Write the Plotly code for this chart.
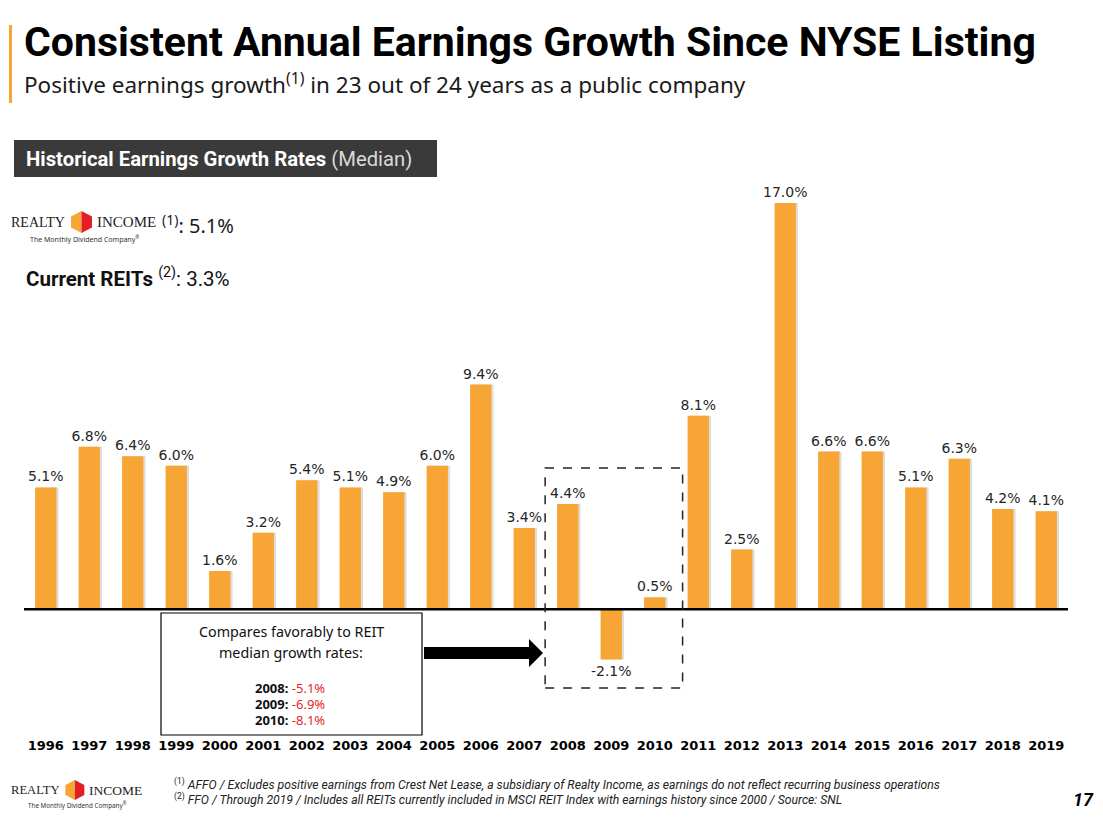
import plotly.graph_objects as go

# Realty Income median annual earnings growth (%)
years = ["1996", "1997", "1998", "1999", "2000", "2001", "2002", "2003",
         "2004", "2005", "2006", "2007", "2008", "2009", "2010", "2011",
         "2012", "2013", "2014", "2015", "2016", "2017", "2018", "2019"]
growth = [5.1, 6.8, 6.4, 6.0, 1.6, 3.2, 5.4, 5.1,
          4.9, 6.0, 9.4, 3.4, 4.4, -2.1, 0.5, 8.1,
          2.5, 17.0, 6.6, 6.6, 5.1, 6.3, 4.2, 4.1]

# REIT medians quoted in the call-out box
reit_years = ["2008", "2009", "2010"]
reit_growth = [-5.1, -6.9, -8.1]

ORANGE = "#F7A535"
RED = "#E31E26"

# page body has an 8px margin, so the figure starts at (8, 8) on screen
OFF = 8
W, H = 1095, 805
# plot area in screen pixels
PL, PR, PT, PB = 24, 1068, 179, 736
L, T = PL - OFF, PT - OFF
R, B = (OFF + W) - PR, (OFF + H) - PB


def px(x):
    # screen pixel x -> paper x
    return (x - PL) / (PR - PL)


def py(y):
    # screen pixel y (from top) -> paper y
    return (PB - y) / (PB - PT)


fig = go.Figure()

# soft drop shadow behind the bars
fig.add_trace(go.Bar(
    x=years, y=growth, width=0.49, offset=-0.245 + 0.05,
    marker=dict(color="rgba(120,120,120,0.25)", line=dict(width=0)),
    hoverinfo="skip", showlegend=False,
))

fig.add_trace(go.Bar(
    x=years, y=growth, width=0.49, offset=-0.245,
    marker=dict(color=ORANGE, line=dict(width=0)),
    text=[f"{v:.1f}%" for v in growth],
    textposition="outside", constraintext="none", cliponaxis=False,
    textfont=dict(family="DejaVu Sans", size=14, color="#262626"),
    showlegend=False,
))

shapes = []
annotations = []

# baseline
shapes.append(dict(type="line", xref="x", yref="y", x0=-0.5, x1=23.5, y0=0, y1=0,
                   line=dict(color="black", width=2.5), layer="above"))

# dashed highlight around 2008-2010
shapes.append(dict(type="rect", xref="x", yref="y", x0=11.48, x1=14.64, y0=-3.29, y1=5.91,
                   line=dict(color="#222222", width=1.5, dash="dash")))

# orange rule next to title
shapes.append(dict(type="rect", xref="paper", yref="paper",
                   x0=px(9), x1=px(12), y0=py(103), y1=py(25),
                   fillcolor=ORANGE, line=dict(width=0)))

# dark header band
shapes.append(dict(type="rect", xref="paper", yref="paper",
                   x0=px(14), x1=px(437), y0=py(177), y1=py(140),
                   fillcolor="#3A3A3A", line=dict(width=0)))

# call-out box
shapes.append(dict(type="rect", xref="paper", yref="paper",
                   x0=px(161), x1=px(422), y0=py(735), y1=py(613),
                   fillcolor="white", line=dict(color="black", width=1.2)))

# thick arrow pointing at the dashed box
arrow = [(424, 647), (529, 647), (529, 639), (543, 653), (529, 667), (529, 659), (424, 659)]
path = "M " + " L ".join(f"{px(a):.5f},{py(b):.5f}" for a, b in arrow) + " Z"
shapes.append(dict(type="path", xref="paper", yref="paper", path=path,
                   fillcolor="black", line=dict(width=0)))


def add_text(x, y, text, size, family="Noto Sans", color="#1a1a1a", xanchor="left"):
    annotations.append(dict(x=px(x), y=py(y), xref="paper", yref="paper", text=text,
                            showarrow=False, xanchor=xanchor, yanchor="middle",
                            font=dict(family=family, size=size, color=color)))


def add_logo(x, y, s):
    # simple Realty Income wordmark: REALTY [cube] INCOME + tagline
    add_text(x + 52 * s, y, "REALTY", 14 * s, "Liberation Serif", "#222222", "right")
    cx = x + 66.5 * s
    hw, hh = 10.5 * s, 11 * s
    left = [(cx, y - hh), (cx - hw, y - hh / 2), (cx - hw, y + hh / 2), (cx, y + hh)]
    right = [(cx, y - hh), (cx + hw, y - hh / 2), (cx + hw, y + hh / 2), (cx, y + hh)]
    for pts, col in ((left, ORANGE), (right, RED)):
        p = "M " + " L ".join(f"{px(a):.5f},{py(b):.5f}" for a, b in pts) + " Z"
        shapes.append(dict(type="path", xref="paper", yref="paper", path=p,
                           fillcolor=col, line=dict(width=0)))
    add_text(x + 80 * s, y, "INCOME", 15 * s, "Liberation Serif", "#222222", "left")
    add_text(x + 69 * s, y + 17 * s, "The Monthly Dividend Company<sup>®</sup>", 7 * s,
             "Noto Sans", "#333333", "center")


# title block
add_text(22, 42, "<b>Consistent Annual Earnings Growth Since NYSE Listing</b>", 41,
         "Roboto", "black")
add_text(22, 84, "Positive earnings growth<sup>(1)</sup> in 23 out of 24 years as a public company",
         22.5, "Noto Sans", "#1a1a1a")
add_text(24, 159, "<b>Historical Earnings Growth Rates</b> "
         "<span style='color:#d9d9d9'>(Median)</span>", 20.3, "Roboto", "white")

# median summary
add_logo(15, 222, 1.0)
add_text(160, 225, "<sup>(1)</sup>: 5.1%", 20, "Noto Sans", "#1a1a1a")
add_text(24, 277, "<b>Current REITs</b> <sup>(2)</sup>: 3.3%", 20.5, "Roboto", "#111111")

# call-out text
add_text(291, 631, "Compares favorably to REIT", 14.3, "Noto Sans", "#111111", "center")
add_text(291, 652, "median growth rates:", 14.3, "Noto Sans", "#111111", "center")
for i, (yr, v) in enumerate(zip(reit_years, reit_growth)):
    add_text(290, 688 + 16 * i,
             f"<b>{yr}:</b> <span style='color:#E8251F'>{v:.1f}%</span>",
             13, "Noto Sans", "#111111", "center")

# footer
add_logo(15, 790, 0.9)
add_text(172, 784, "<sup>(1)</sup> <i>AFFO / Excludes positive earnings from Crest Net Lease, "
         "a subsidiary of Realty Income, as earnings do not reflect recurring business operations</i>",
         12.2, "Roboto", "#222222")
add_text(172, 799, "<sup>(2)</sup> <i>FFO / Through 2019 / Includes all REITs currently included "
         "in MSCI REIT Index with earnings history since 2000 / Source: SNL</i>",
         12.2, "Roboto", "#222222")
add_text(1096, 800, "<b><i>17</i></b>", 18, "Roboto", "black", "right")

fig.update_layout(
    width=W, height=H,
    margin=dict(l=L, r=R, t=T, b=B),
    barmode="overlay",
    plot_bgcolor="white", paper_bgcolor="white",
    xaxis=dict(type="category", range=[-0.5, 23.5], showgrid=False, zeroline=False,
               showline=False, ticks="",
               tickfont=dict(family="DejaVu Sans", size=13, color="black", weight="bold")),
    yaxis=dict(range=[-5.3, 18.0], visible=False, showgrid=False, zeroline=False),
    shapes=shapes,
    annotations=annotations,
)

fig.write_html("out.html")
